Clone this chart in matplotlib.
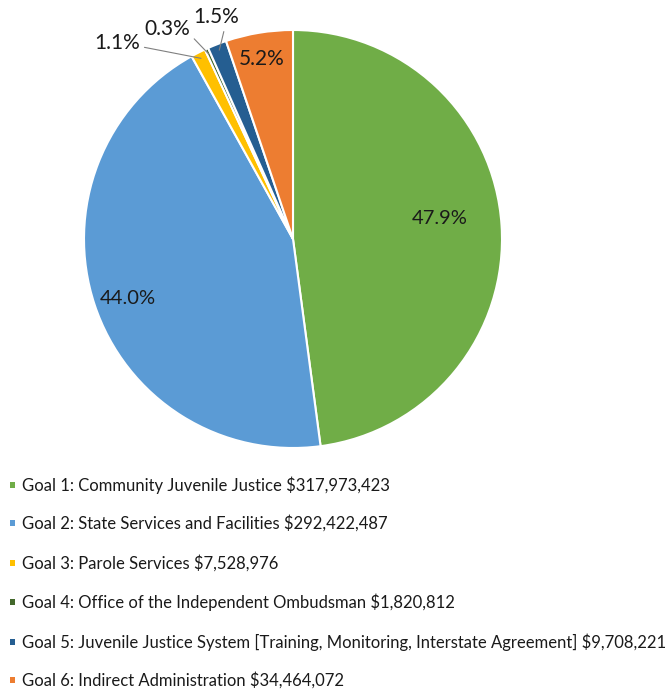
import matplotlib
matplotlib.use("Agg")
import matplotlib.pyplot as plt
from matplotlib.patches import Rectangle
import numpy as np

labels = [
    "Goal 1: Community Juvenile Justice $317,973,423",
    "Goal 2: State Services and Facilities $292,422,487",
    "Goal 3: Parole Services $7,528,976",
    "Goal 4: Office of the Independent Ombudsman $1,820,812",
    "Goal 5: Juvenile Justice System [Training, Monitoring, Interstate Agreement] $9,708,221",
    "Goal 6: Indirect Administration $34,464,072",
]
values = [317973423, 292422487, 7528976, 1820812, 9708221, 34464072]
pct_labels = ["47.9%", "44.0%", "1.1%", "0.3%", "1.5%", "5.2%"]
colors = ["#70AD47", "#5B9BD5", "#FFC000", "#43682B", "#255E91", "#ED7D31"]

plt.rcParams['font.family'] = ['Lato', 'DejaVu Sans']

W, H = 667, 695
fig = plt.figure(figsize=(W / 100, H / 100), dpi=100)
cx, cy, R = 293, 239, 209
ax = fig.add_axes([(cx - R) / W, (H - cy - R) / H, 2 * R / W, 2 * R / H])

wedges, _ = ax.pie(values, colors=colors, startangle=90, counterclock=False, radius=1,
                   wedgeprops=dict(edgecolor='white', linewidth=1.5))
ax.set_xlim(-1, 1)
ax.set_ylim(-1, 1)
ax.set_aspect('equal')
ax.axis('off')

tc = '#1a1a1a'
# inside labels
inside = {0: (0.70, 0.096), 1: (-0.79, -0.287), 5: (-0.148, 0.861)}
sizes = {0: 14.5, 1: 14.5, 5: 15}
for i, (x, y) in inside.items():
    ax.text(x, y, pct_labels[i], ha='center', va='center', fontsize=sizes[i], color=tc)

# outside labels with leader lines
outside = {2: (-0.84, 0.94), 3: (-0.60, 1.005), 4: (-0.37, 1.06)}
relpos = {2: (1.0, 0.3), 3: (1.0, 0.2), 4: (0.7, 0.0)}
for i, (x, y) in outside.items():
    w = wedges[i]
    mid = np.deg2rad((w.theta1 + w.theta2) / 2)
    px, py = 0.97 * np.cos(mid), 0.97 * np.sin(mid)
    ax.annotate(pct_labels[i], xy=(px, py), xytext=(x, y), ha='center', va='center',
                fontsize=15, color=tc, annotation_clip=False,
                arrowprops=dict(arrowstyle='-', color='#808080', lw=0.8,
                                shrinkA=1, shrinkB=0, relpos=relpos[i]))

# legend
rows_y = [485, 523, 563, 602, 642, 680]
for lab, col, ry in zip(labels, colors, rows_y):
    s = 6
    fig.patches.append(Rectangle(((12.5 - s / 2) / W, (H - ry - s / 2) / H), s / W, s / H,
                                 transform=fig.transFigure, facecolor=col, edgecolor='none'))
    fig.text(22 / W, (H - ry) / H, lab, ha='left', va='center', fontsize=11.95, color=tc)

fig.savefig("out.png", dpi=100)
